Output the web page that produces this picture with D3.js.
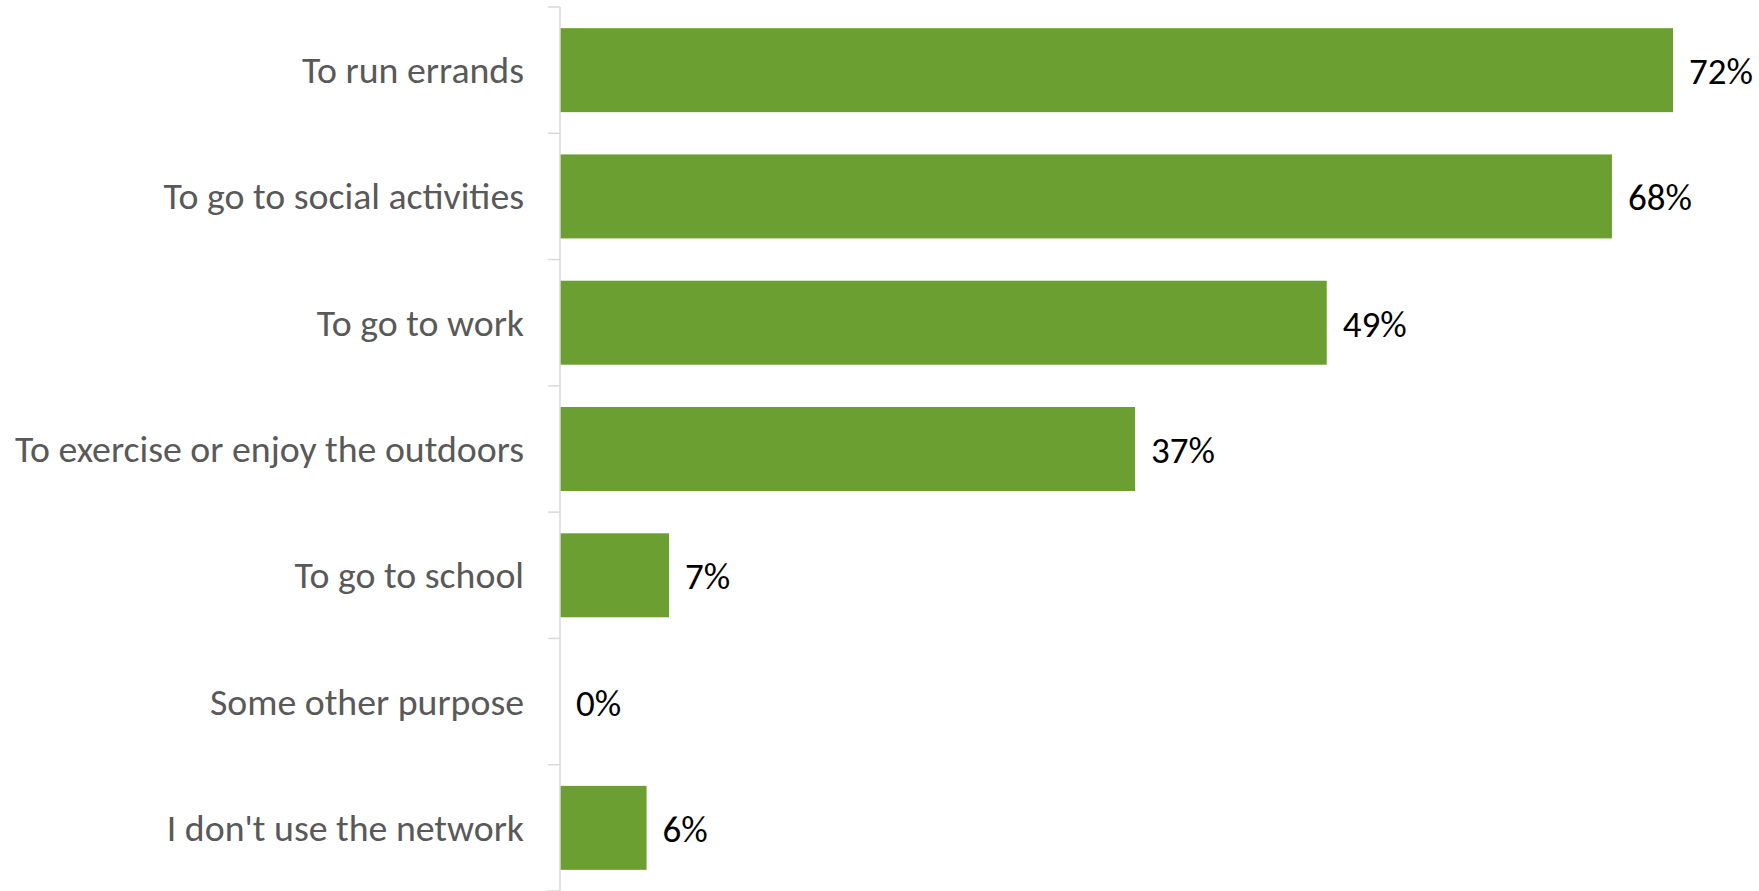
<!DOCTYPE html>
<html>
<head>
<meta charset="utf-8">
<script src="https://cdn.jsdelivr.net/npm/d3@7"></script>
<style>
  html, body { margin: 0; padding: 0; background: #fff; }
  svg { display: block; }
</style>
</head>
<body>
<svg id="chart" width="1759" height="891"></svg>
<script>
const categories = [
  "To run errands",
  "To go to social activities",
  "To go to work",
  "To exercise or enjoy the outdoors",
  "To go to school",
  "Some other purpose",
  "I don't use the network"
];
const values = [72, 68.05, 49.6, 37.2, 7.05, 0, 5.6];
const valueLabels = ["72%", "68%", "49%", "37%", "7%", "0%", "6%"];

const W = 1759, H = 891;
const axisX = 560;
const svg = d3.select("#chart");

const x = d3.scaleLinear().domain([0, 72]).range([axisX, 1673]);
const y = d3.scaleBand().domain(categories).range([7, 891]).paddingInner(0.335).paddingOuter(0.1675);
const step = y.step();
const fontFam = "Carlito, Calibri, Lato, 'Open Sans', sans-serif";

// bars
svg.append("g").selectAll("rect").data(categories).join("rect")
  .attr("x", x(0))
  .attr("y", d => y(d))
  .attr("width", (d, i) => x(values[i]) - x(0))
  .attr("height", y.bandwidth())
  .attr("fill", "#6b9f32");

// axis line + ticks at band boundaries
const ag = svg.append("g");
ag.append("line").attr("x1", axisX).attr("x2", axisX).attr("y1", 7).attr("y2", H)
  .attr("stroke", "#d9d9d9").attr("stroke-width", 1.5);
const bounds = categories.map(c => y(c) - step * y.paddingInner() / 2);
bounds.push(bounds[bounds.length - 1] + step);
ag.selectAll("line.tick").data(bounds).join("line").attr("class", "tick")
  .attr("x1", axisX - 12).attr("x2", axisX).attr("y1", d => d).attr("y2", d => d)
  .attr("stroke", "#d9d9d9").attr("stroke-width", 1.5);

// category labels
svg.append("g").selectAll("text").data(categories).join("text")
  .attr("x", axisX - 36)
  .attr("y", d => y(d) + y.bandwidth() / 2 + 13)
  .attr("text-anchor", "end")
  .attr("font-family", fontFam)
  .attr("font-size", 37.8)
  .attr("fill", "#595959")
  .text(d => d);

// value labels
svg.append("g").selectAll("text").data(categories).join("text")
  .attr("x", (d, i) => x(values[i]) + 16)
  .attr("y", d => y(d) + y.bandwidth() / 2 + 14)
  .attr("font-family", fontFam)
  .attr("font-size", 37)
  .attr("fill", "#000")
  .text((d, i) => valueLabels[i]);
</script>
</body>
</html>
